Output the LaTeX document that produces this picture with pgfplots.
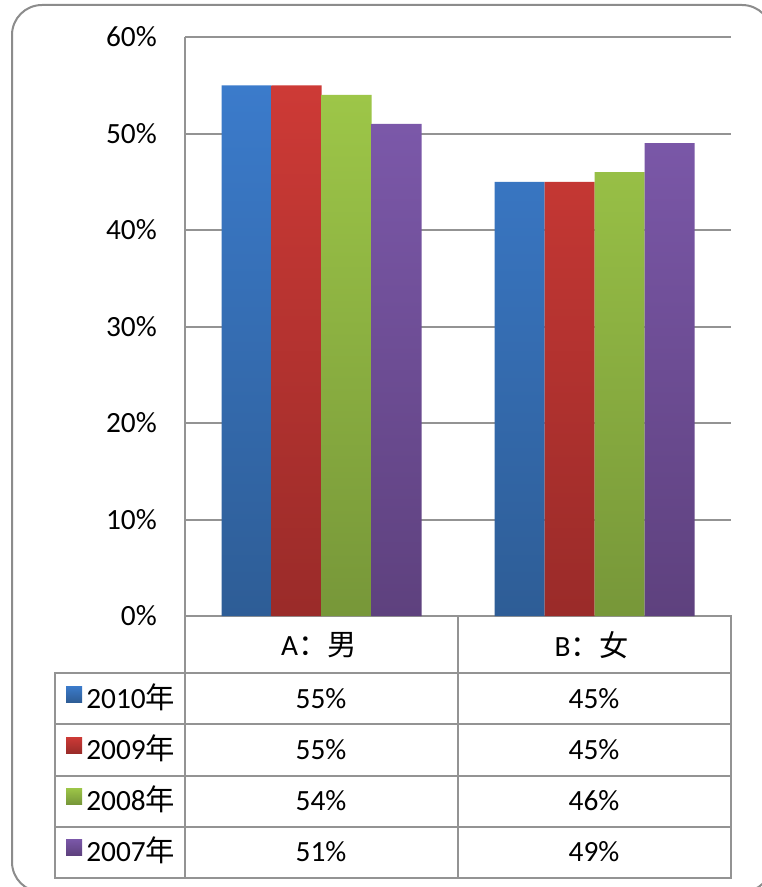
\documentclass[border=0pt]{standalone}
\usepackage{pgfplots}
\pgfplotsset{compat=1.18}
\usepackage{fontspec}
\setmainfont{Carlito}
\newfontfamily\cjk{Noto Sans CJK SC}

\definecolor{gridgray}{HTML}{939393}
\definecolor{framegray}{HTML}{8C8C8C}
\definecolor{blueT}{HTML}{3B7BCB}
\definecolor{blueB}{HTML}{2E5D96}
\definecolor{redT}{HTML}{CD3A36}
\definecolor{redB}{HTML}{9A2B29}
\definecolor{greenT}{HTML}{9DC648}
\definecolor{greenB}{HTML}{779739}
\definecolor{purpleT}{HTML}{7B58A9}
\definecolor{purpleB}{HTML}{5E417E}

% image pixel -> picture coordinate
\newcommand{\pp}[2]{({#1*0.75pt},{-#2*0.75pt})}
\newcommand{\fs}{\fontsize{22}{26}\selectfont}

\begin{document}
\begin{tikzpicture}[font=\fs]
\fill[white] \pp{0}{0} rectangle \pp{761}{887};
\draw[overlay, framegray, line width=1.5pt, rounded corners=22.5pt] \pp{12}{5} rectangle \pp{772}{892};

\begin{axis}[
  at={(138.75pt,-462pt)}, anchor=south west,
  scale only axis, width=409.5pt, height=434.25pt,
  xmin=-0.5, xmax=1.5, ymin=0, ymax=60,
  ybar=0pt, bar width=37.5pt,
  xtick=\empty,
  ytick={0,10,...,60},
  yticklabels={0\%,10\%,20\%,30\%,40\%,50\%,60\%},
  major tick length=0pt,
  ymajorgrids,
  grid style={gridgray, line width=1.5pt},
  axis lines=left,
  axis line style={gridgray, line width=1.5pt, -},
  yticklabel style={font=\fs, anchor=east, inner sep=0pt, xshift=-21pt},
]
\addplot[draw=none, top color=blueT, bottom color=blueB] coordinates {(0,55) (1,45)};
\addplot[draw=none, top color=redT, bottom color=redB] coordinates {(0,55) (1,45)};
\addplot[draw=none, top color=greenT, bottom color=greenB] coordinates {(0,54) (1,46)};
\addplot[draw=none, top color=purpleT, bottom color=purpleB] coordinates {(0,51) (1,49)};
\end{axis}

% data table
\begin{scope}[gridgray, line width=1.5pt, line cap=rect]
\draw \pp{185}{616} -- \pp{185}{878};
\draw \pp{458}{616} -- \pp{458}{878};
\draw \pp{731}{616} -- \pp{731}{878};
\draw \pp{55}{673} -- \pp{55}{878};
\foreach \y in {673,724,776,827,878} {
  \draw \pp{55}{\y} -- \pp{731}{\y};
}
\end{scope}

\node at \pp{319}{645} {A\cjk{：男}};
\node at \pp{592}{645} {B\cjk{：女}};

\node at \pp{321}{699} {55\%};
\node at \pp{594}{699} {45\%};
\node at \pp{321}{750} {55\%};
\node at \pp{594}{750} {45\%};
\node at \pp{321}{801} {54\%};
\node at \pp{594}{801} {46\%};
\node at \pp{321}{852} {51\%};
\node at \pp{594}{852} {49\%};

\fill[top color=blueT, bottom color=blueB] \pp{66}{686} rectangle \pp{82}{702};
\node[anchor=west, inner sep=0pt] at \pp{86}{697} {2010\cjk{年}};
\fill[top color=redT, bottom color=redB] \pp{66}{737} rectangle \pp{82}{753};
\node[anchor=west, inner sep=0pt] at \pp{86}{748} {2009\cjk{年}};
\fill[top color=greenT, bottom color=greenB] \pp{66}{788} rectangle \pp{82}{804};
\node[anchor=west, inner sep=0pt] at \pp{86}{799} {2008\cjk{年}};
\fill[top color=purpleT, bottom color=purpleB] \pp{66}{839} rectangle \pp{82}{855};
\node[anchor=west, inner sep=0pt] at \pp{86}{850} {2007\cjk{年}};
\end{tikzpicture}
\end{document}
